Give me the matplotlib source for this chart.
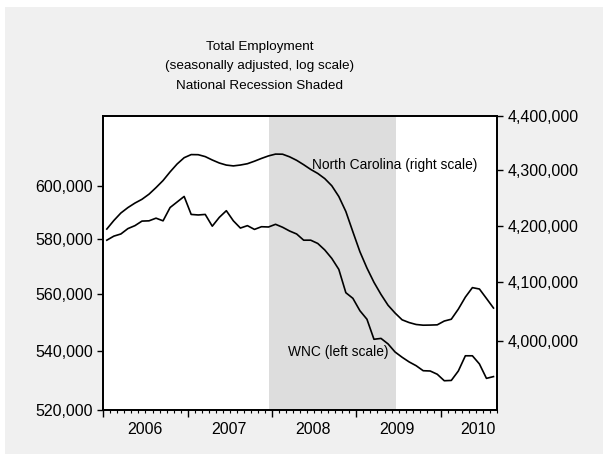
import numpy as np
import matplotlib
matplotlib.use('Agg')
import matplotlib.pyplot as plt
from matplotlib.patches import Rectangle
from matplotlib.ticker import FixedLocator, NullLocator, FuncFormatter, MultipleLocator

plt.rcParams['font.family'] = ['Liberation Sans', 'DejaVu Sans']

# monthly data, Jan 2006 .. Aug 2010 (month index 0..55)
wnc = [579500, 581000, 581800, 583800, 584900, 586600, 586700, 587700,
       586700, 591700, 593800, 595900, 589100, 588900, 589100, 584700,
       588000, 590500, 586700, 584000, 584900, 583500, 584500, 584400,
       585400, 584300, 582900, 581800, 579500, 579500, 578300, 575900,
       572800, 568800, 560400, 558400, 554000, 551000, 544000, 544300,
       542400, 539600, 537800, 536200, 534900, 533200, 533100, 532000,
       529800, 529900, 533100, 538300, 538300, 535500, 530600, 531200]
nc = [4193700, 4208900, 4222300, 4232000, 4240100, 4246900, 4256100, 4268000,
      4280800, 4296500, 4310900, 4322400, 4328100, 4327900, 4324400, 4318200,
      4312700, 4308900, 4307400, 4309000, 4311400, 4316000, 4321100, 4325700,
      4329000, 4328800, 4324000, 4317600, 4309600, 4301000, 4293700, 4284300,
      4271300, 4251900, 4225000, 4188800, 4153600, 4125000, 4100100, 4079100,
      4060500, 4047100, 4035500, 4030800, 4027500, 4026300, 4026500, 4026900,
      4033400, 4036500, 4053800, 4074500, 4090900, 4088500, 4072200, 4055700]
years = ['2006', '2007', '2008', '2009', '2010']
year_label_pos = [5.95, 17.9, 29.8, 41.8, 53.3]
left_ticks = [520000, 540000, 560000, 580000, 600000]
right_ticks = [4000000, 4100000, 4200000, 4300000, 4400000]
recession = (23.5, 41.6)  # Dec 2007 - Jun 2009

x = np.arange(len(wnc)) + 0.5

fig = plt.figure(figsize=(6.03, 4.54), dpi=100)
fig.patch.set_facecolor('white')
fig.patches.append(Rectangle((5/603, 0), 1, 447/454, transform=fig.transFigure,
                             facecolor='#f0f0f0', edgecolor='none', zorder=-10))

ax = fig.add_axes([103.3/603, 1-410/454, (497-103.3)/603, (410-115.7)/454])
ax2 = ax.twinx()
# left axis drawn on top, right axis carries the white background + shading
ax.set_zorder(ax2.get_zorder()+1)
ax.patch.set_visible(False)
ax2.patch.set_visible(True)
ax2.patch.set_facecolor('white')

ax2.axvspan(recession[0], recession[1], color='#dddddd', lw=0, zorder=0)

ax.plot(x, wnc, color='black', lw=1.2)
ax2.plot(x, nc, color='black', lw=1.2)

fmt = FuncFormatter(lambda v, p: '{:,.0f}'.format(v))
blank = FuncFormatter(lambda v, p: '')

ax.set_yscale('log')
ax.set_ylim(520000, 627400)
ax.yaxis.set_major_locator(FixedLocator(left_ticks))
ax.yaxis.set_minor_locator(NullLocator())
ax.yaxis.set_major_formatter(fmt)
ax.yaxis.set_minor_formatter(blank)

ax2.set_yscale('log')
ax2.set_ylim(3884200, 4400000)
ax2.yaxis.set_major_locator(FixedLocator(right_ticks))
ax2.yaxis.set_minor_locator(NullLocator())
ax2.yaxis.set_major_formatter(fmt)
ax2.yaxis.set_minor_formatter(blank)

ax.set_xlim(0, 56)
ax.xaxis.set_major_locator(MultipleLocator(12))
ax.xaxis.set_minor_locator(MultipleLocator(1))
ax.set_xticklabels([])
ax.tick_params(axis='x', which='major', length=5, width=1, direction='out')
ax.tick_params(axis='x', which='minor', length=2.3, width=0.8, direction='out')
ax.tick_params(axis='y', length=4.3, width=1, direction='out', labelsize=11.5, pad=3)
ax2.tick_params(axis='y', length=4.3, width=1, direction='out', labelsize=11.5, pad=3)
ax2.tick_params(axis='x', which='both', length=0)

for a in (ax, ax2):
    for s in a.spines.values():
        s.set_linewidth(1.3)
        s.set_color('black')

for pos, lab in zip(year_label_pos, years):
    ax.text(pos, -0.067, lab, transform=ax.get_xaxis_transform(),
            ha='center', va='center', fontsize=11.5)

fig.text(288.3/603, 1-351.7/454, 'WNC (left scale)', fontsize=9.9, va='center')
fig.text(311.7/603, 1-165/454, 'North Carolina (right scale)', fontsize=9.9, va='center')

fig.text(260/603, 1-47/454, 'Total Employment', ha='center', va='center', fontsize=9.7)
fig.text(260/603, 1-66.5/454, '(seasonally adjusted, log scale)', ha='center', va='center', fontsize=9.7)
fig.text(260/603, 1-86/454, 'National Recession Shaded', ha='center', va='center', fontsize=9.7)

fig.savefig('out.png', dpi=100)
